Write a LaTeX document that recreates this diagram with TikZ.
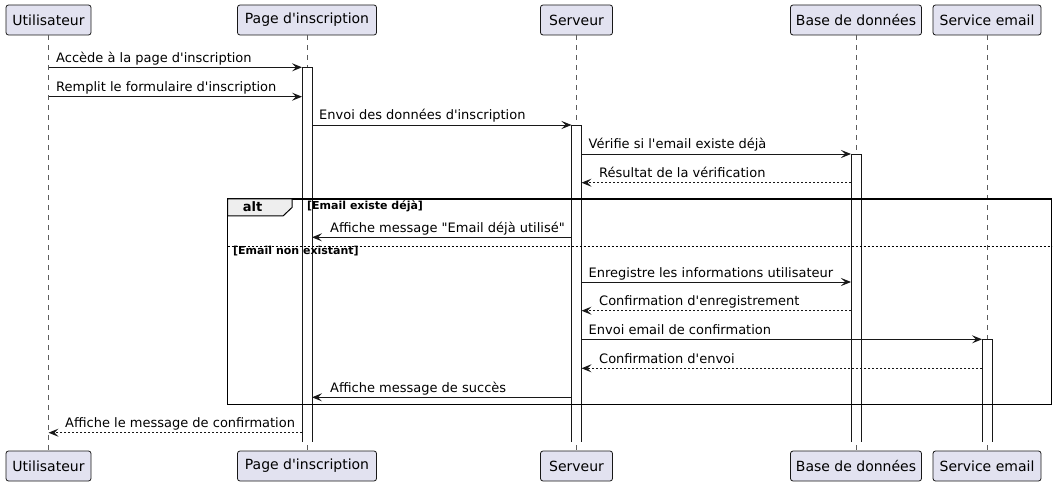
\documentclass[tikz,border=0pt]{standalone}
\usepackage{fontspec}
\setmainfont{DejaVu Sans}[Ligatures=TeXOff]
\usetikzlibrary{arrows.meta}
\definecolor{partfill}{HTML}{E2E2F0}
\definecolor{partdraw}{HTML}{181818}
\definecolor{tabfill}{HTML}{EEEEEE}
\begin{document}
\begin{tikzpicture}[x=1pt,y=-1pt,
  part/.style={draw=partdraw, fill=partfill, rounded corners=2.5pt, line width=0.8pt,
    minimum height=30pt, inner sep=0pt, font=\fontsize{14}{16}\selectfont},
  life/.style={draw=partdraw!70, line width=0.7pt, dash pattern=on 5pt off 5pt},
  actfill/.style={fill=white, draw=none},
  act/.style={draw=partdraw, line width=0.9pt},
  sync/.style={draw=partdraw, line width=0.9pt, -{Stealth[length=10pt,width=8pt,inset=4pt]}},
  ret/.style={sync, dash pattern=on 2pt off 2pt},
  lbl/.style={font=\fontsize{13}{15}\selectfont, anchor=base west, inner sep=0pt, text=black},
  guard/.style={font=\bfseries\fontsize{11}{13}\selectfont, anchor=base west, inner sep=0pt},
]
\useasboundingbox (0,0) rectangle (1057,486);

% participants
\node[part, minimum width=85pt]  (u)  at (48.5,20) {Utilisateur};
\node[part, minimum width=139pt] (p)  at (307,20)  {Page d'inscription};
\node[part, minimum width=72pt]  (s)  at (576.5,20) {Serveur};
\node[part, minimum width=131pt] (b)  at (856,20)  {Base de données};
\node[part, minimum width=108pt] (e)  at (987,20)  {Service email};
\node[part, minimum width=85pt]  (u2) at (48.5,466) {Utilisateur};
\node[part, minimum width=139pt] (p2) at (307,466)  {Page d'inscription};
\node[part, minimum width=72pt]  (s2) at (576.5,466) {Serveur};
\node[part, minimum width=131pt] (b2) at (856,466)  {Base de données};
\node[part, minimum width=108pt] (e2) at (987,466)  {Service email};

% lifelines
\foreach \a/\b in {u/u2,p/p2,s/s2,b/b2,e/e2}
  \draw[life] (\a.south) -- (\b.north);

% activation bars (open at the bottom)
\foreach \xl/\yt in {302/67.3, 571.5/125, 851/154, 982/339.3} {
  \fill[actfill] (\xl,\yt) rectangle (\xl+10,442);
  \draw[act] (\xl,442) -- (\xl,\yt) -- (\xl+10,\yt) -- (\xl+10,442);
}

% alt frame
\draw[line width=1.6pt, draw=black] (227.5,199) rectangle (1051.5,404.5);
\draw[line width=1pt, fill=tabfill] (227.5,199) -- (292,199) -- (292,207.5) -- (283,216) -- (227.5,216) -- cycle;
\node[font=\bfseries\fontsize{13}{15}\selectfont, anchor=base, inner sep=0pt] (alt) at (252.5,211.5) {alt};
\node[guard] (g1) at (307,210) {[Email existe déjà]};
\draw[line width=0.8pt, dash pattern=on 2pt off 2pt] (227.5,246) -- (1051.5,246);
\node[guard] (g2) at (233,255) {[Email non existant]};

% messages
\coordinate (m1a) at (48.5,67.3);  \coordinate (m1b) at (302,67.3);
\draw[sync] (m1a) -- (m1b);
\node[lbl] (t1) at (56,62.3) {Accède à la page d'inscription};

\coordinate (m2a) at (48.5,96.7);  \coordinate (m2b) at (302,96.7);
\draw[sync] (m2a) -- (m2b);
\node[lbl] (t2) at (56,91.7) {Remplit le formulaire d'inscription};

\coordinate (m3a) at (312,125);  \coordinate (m3b) at (571.5,125);
\draw[sync] (m3a) -- (m3b);
\node[lbl] (t3) at (319,120) {Envoi des données d'inscription};

\coordinate (m4a) at (581.5,154);  \coordinate (m4b) at (851,154);
\draw[sync] (m4a) -- (m4b);
\node[lbl] (t4) at (588.5,149) {Vérifie si l'email existe déjà};

\coordinate (m5a) at (851,182.7);  \coordinate (m5b) at (581.5,182.7);
\draw[ret] (m5a) -- (m5b);
\node[lbl] (t5) at (599,177.7) {Résultat de la vérification};

\coordinate (m6a) at (571.5,237.3);  \coordinate (m6b) at (312,237.3);
\draw[sync] (m6a) -- (m6b);
\node[lbl] (t6) at (330,232.3) {Affiche message "Email déjà utilisé"};

\coordinate (m7a) at (581.5,282);  \coordinate (m7b) at (851,282);
\draw[sync] (m7a) -- (m7b);
\node[lbl] (t7) at (588.5,277) {Enregistre les informations utilisateur};

\coordinate (m8a) at (851,310.7);  \coordinate (m8b) at (581.5,310.7);
\draw[ret] (m8a) -- (m8b);
\node[lbl] (t8) at (599,305.7) {Confirmation d'enregistrement};

\coordinate (m9a) at (581.5,339.3);  \coordinate (m9b) at (982,339.3);
\draw[sync] (m9a) -- (m9b);
\node[lbl] (t9) at (588.5,334.3) {Envoi email de confirmation};

\coordinate (m10a) at (982,368.3);  \coordinate (m10b) at (581.5,368.3);
\draw[ret] (m10a) -- (m10b);
\node[lbl] (t10) at (599,363.3) {Confirmation d'envoi};

\coordinate (m11a) at (571.5,397.3);  \coordinate (m11b) at (312,397.3);
\draw[sync] (m11a) -- (m11b);
\node[lbl] (t11) at (330,392.3) {Affiche message de succès};

\coordinate (m12a) at (302,432.7);  \coordinate (m12b) at (48.5,432.7);
\draw[ret] (m12a) -- (m12b);
\node[lbl] (t12) at (65,427.7) {Affiche le message de confirmation};
\end{tikzpicture}
\end{document}
